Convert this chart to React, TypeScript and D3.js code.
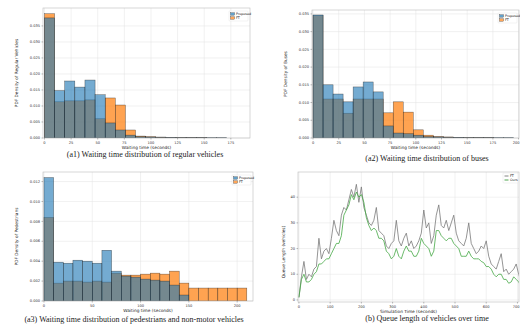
import React from 'react';
import * as d3 from 'd3';

// ---------- data ----------
// (a1) regular vehicles, density per bin
const regularBlue = [0.0375, 0.0148, 0.0178, 0.0159, 0.0181, 0.0135, 0.0047, 0.0025, 0.0009, 0.0004, 0.0003, 0.0002, 0.0002, 0.0001, 0.0001, 0.0001, 0.0001, 0.0001];
const regularOrange = [0.0388, 0.0113, 0.0116, 0.0116, 0.0119, 0.0060, 0.0125, 0.0103, 0.0025, 0.0006, 0.0004, 0.0003, 0.0002, 0.0001, 0.0001, 0.0001, 0, 0];
// (a2) buses
const busBlue = [0.0347, 0.0150, 0.0124, 0.0102, 0.0144, 0.0158, 0.0130, 0.0034, 0.0014, 0.0012, 0.0008, 0.0004, 0.0003, 0.0002, 0.0002, 0.0001, 0.0001, 0.0001, 0.0001, 0.0001];
const busOrange = [0.0345, 0.0110, 0.0110, 0.0070, 0.0110, 0.0110, 0.0110, 0.0071, 0.0102, 0.0073, 0.0023, 0.0008, 0.0004, 0.0003, 0.0002, 0.0001, 0.0001, 0.0001, 0, 0];
// (a3) pedestrians and non-motor vehicles
const pedBlue = [0.0124, 0.0039, 0.0038, 0.0041, 0.0040, 0.0038, 0.0051, 0.0030, 0.0025, 0.0024, 0.0022, 0.0021, 0.0020, 0.0016, 0.0006, 0, 0, 0, 0, 0, 0];
const pedOrange = [0.0084, 0.0018, 0.0020, 0.0020, 0.0019, 0.0020, 0.0019, 0.0028, 0.0026, 0.0026, 0.0027, 0.0028, 0.0027, 0.0030, 0.0018, 0.0013, 0.0013, 0.0013, 0.0013, 0.0013, 0.0013];

const densTicks = [0, 0.005, 0.01, 0.015, 0.02, 0.025, 0.03, 0.035];
const pedTicks = [0, 0.002, 0.004, 0.006, 0.008, 0.01, 0.012];
const waitTicksA = [0, 25, 50, 75, 100, 125, 150, 175];
const waitTicksB = [0, 25, 50, 75, 100, 125, 150, 175, 200];
const waitTicksC = [0, 50, 100, 150, 200];

// (b) queue length over time, sampled every 8 s
const timeStep = 8;
const queueGrey = [1, 9, 15, 8, 10, 9, 12, 13, 24, 16, 19, 20, 18, 24, 31, 27, 25, 33, 36, 35, 39, 43, 40, 45, 38, 44, 36, 33, 30, 29, 31, 36, 27, 26, 25, 21, 20, 22, 23, 31, 23, 21, 24, 26, 21, 23, 20, 21, 23, 26, 35, 28, 30, 22, 25, 33, 37, 29, 28, 31, 27, 30, 33, 26, 23, 22, 21, 24, 30, 22, 20, 18, 19, 21, 20, 23, 17, 14, 13, 12, 15, 18, 11, 12, 10, 11, 12, 14, 10, 7];
const queueGreen = [1, 8, 10, 7, 7, 8, 10, 11, 14, 14, 15, 16, 16, 18, 20, 22, 22, 25, 33, 35, 37, 41, 39, 42, 40, 41, 38, 32, 29, 27, 28, 27, 24, 24, 23, 19, 18, 16, 17, 20, 17, 16, 19, 21, 19, 19, 17, 17, 19, 24, 22, 21, 20, 17, 19, 27, 27, 25, 24, 23, 24, 24, 22, 21, 20, 17, 17, 17, 19, 17, 16, 16, 16, 15, 14.5, 13, 13, 12, 10, 9, 10, 10, 8, 8, 6.5, 7, 9, 8, 7, 5];
const queueYTicks = [0, 10, 20, 30, 40];
const timeTicks = [0, 100, 200, 300, 400, 500, 600, 700];

const legendHist = ['Proposed', 'FT'];
const legendLine = ['FT', 'Ours'];

// ---------- style ----------
const BLUE = '#1f77b4';
const ORANGE = '#ff7f0e';
const SANS = 'DejaVu Sans, sans-serif';
const SERIF = 'Liberation Serif, Times New Roman, serif';

type HistProps = {
  id: string;
  x0: number; x1: number; y0: number; y1: number;
  xDomain: [number, number]; yDomain: [number, number];
  xTicks: number[]; yTicks: number[]; yFmt: (v: number) => string;
  binWidth: number; blue: number[]; orange: number[];
  ylabel: string; xlabel: string; caption: string; capX: number; capY: number;
};

function Legend({ x, y, items, kind, w }: { x: number; y: number; items: string[]; kind: 'patch' | 'line'; w: number }) {
  const colors = kind === 'patch' ? [BLUE, ORANGE] : ['#777', '#3a9a3a'];
  return (
    <g>
      <rect x={x} y={y} width={w} height={10} fill="white" fillOpacity={0.85} stroke="#ddd" strokeWidth={0.4} rx={0.8} />
      {items.map((t, i) => (
        <g key={t}>
          {kind === 'patch' ? (
            <rect x={x + 1.5} y={y + 1.8 + i * 4} width={4} height={2.4} fill={colors[i]} fillOpacity={0.7} stroke="#222" strokeWidth={0.3} />
          ) : (
            <line x1={x + 1.5} x2={x + 5.5} y1={y + 3 + i * 4} y2={y + 3 + i * 4} stroke={colors[i]} strokeWidth={0.9} />
          )}
          <text x={x + 7} y={y + 4.1 + i * 4} fontSize={3.3} fontFamily={SANS} fill="#111">{t}</text>
        </g>
      ))}
    </g>
  );
}

function Hist(p: HistProps) {
  const x = d3.scaleLinear().domain(p.xDomain).range([p.x0, p.x1]);
  const y = d3.scaleLinear().domain(p.yDomain).range([p.y1, p.y0]);
  const bars = (vals: number[], color: string, op: number) =>
    vals.map((v, i) =>
      v > 0 ? (
        <rect key={color + i}
          x={x(i * p.binWidth)} width={x((i + 1) * p.binWidth) - x(i * p.binWidth)}
          y={y(v)} height={y(0) - y(v)}
          fill={color} fillOpacity={op} stroke="#1a1a1a" strokeOpacity={0.7} strokeWidth={0.45} />
      ) : null
    );
  return (
    <g>
      <defs>
        <clipPath id={'clip' + p.id}><rect x={p.x0} y={p.y0} width={p.x1 - p.x0} height={p.y1 - p.y0} /></clipPath>
      </defs>
      <rect x={p.x0} y={p.y0} width={p.x1 - p.x0} height={p.y1 - p.y0} fill="white" />
      {p.xTicks.map(t => (
        <line key={'gx' + t} x1={x(t)} x2={x(t)} y1={p.y0} y2={p.y1} stroke="#e2e2e2" strokeWidth={0.5} />
      ))}
      {p.yTicks.map(t => (
        <line key={'gy' + t} x1={p.x0} x2={p.x1} y1={y(t)} y2={y(t)} stroke="#e2e2e2" strokeWidth={0.5} />
      ))}
      <g clipPath={`url(#clip${p.id})`}>
        {bars(p.orange, ORANGE, 0.72)}
        {bars(p.blue, BLUE, 0.62)}
      </g>
      <rect x={p.x0} y={p.y0} width={p.x1 - p.x0} height={p.y1 - p.y0} fill="none" stroke="#bdbdbd" strokeWidth={0.6} />
      {p.yTicks.map(t => (
        <g key={'ty' + t}>
          <line x1={p.x0 - 1.5} x2={p.x0} y1={y(t)} y2={y(t)} stroke="#555" strokeWidth={0.4} />
          <text x={p.x0 - 3} y={y(t) + 1.2} fontSize={3.6} textAnchor="end" fontFamily={SANS} fill="#333">{p.yFmt(t)}</text>
        </g>
      ))}
      {p.xTicks.map(t => {
        const edge = x(t) > 514;
        return (
          <g key={'tx' + t}>
            <line x1={x(t)} x2={x(t)} y1={p.y1} y2={p.y1 + 1.5} stroke="#555" strokeWidth={0.4} />
            <text x={edge ? 519.5 : x(t)} y={p.y1 + 5.5} fontSize={3.6} textAnchor={edge ? 'end' : 'middle'} fontFamily={SANS} fill="#333">{t}</text>
          </g>
        );
      })}
      <text x={(p.x0 + p.x1) / 2} y={p.y1 + 10.5} fontSize={4.3} textAnchor="middle" fontFamily={SANS} fill="#222">{p.xlabel}</text>
      <text transform={`translate(${p.x0 - 25},${(p.y0 + p.y1) / 2}) rotate(-90)`} fontSize={4.3} textAnchor="middle" fontFamily={SANS} fill="#222">{p.ylabel}</text>
      <Legend x={p.x1 - 21} y={p.y0 + 3} items={legendHist} kind="patch" w={19} />
      <text x={p.capX} y={p.capY} fontSize={8} textAnchor="middle" fontFamily={SERIF} fill="#222">{p.caption}</text>
    </g>
  );
}

function QueuePanel() {
  const x0 = 298, x1 = 519, y0 = 172, y1 = 302;
  const x = d3.scaleLinear().domain([-3, 705]).range([x0, x1]);
  const y = d3.scaleLinear().domain([-0.8, 49.8]).range([y1, y0]);
  const line = d3.line<number>().x((_, i) => x(i * timeStep)).y(d => y(d));
  return (
    <g>
      <defs>
        <clipPath id="clipQ"><rect x={x0} y={y0} width={x1 - x0} height={y1 - y0} /></clipPath>
      </defs>
      <rect x={x0} y={y0} width={x1 - x0} height={y1 - y0} fill="white" />
      {timeTicks.map(t => (
        <line key={'gx' + t} x1={x(t)} x2={x(t)} y1={y0} y2={y1} stroke="#e2e2e2" strokeWidth={0.5} />
      ))}
      {queueYTicks.map(t => (
        <line key={'gy' + t} x1={x0} x2={x1} y1={y(t)} y2={y(t)} stroke="#e2e2e2" strokeWidth={0.5} />
      ))}
      <g clipPath="url(#clipQ)">
        <path d={line(queueGrey) || ''} fill="none" stroke="#7a7a7a" strokeWidth={0.8} />
        <path d={line(queueGreen) || ''} fill="none" stroke="#45a845" strokeWidth={0.8} />
      </g>
      <rect x={x0} y={y0} width={x1 - x0} height={y1 - y0} fill="none" stroke="#bdbdbd" strokeWidth={0.6} />
      {queueYTicks.map(t => (
        <g key={'ty' + t}>
          <line x1={x0 - 1.5} x2={x0} y1={y(t)} y2={y(t)} stroke="#555" strokeWidth={0.4} />
          <text x={x0 - 3} y={y(t) + 1.2} fontSize={3.6} textAnchor="end" fontFamily={SANS} fill="#333">{t}</text>
        </g>
      ))}
      {timeTicks.map(t => {
        const edge = x(t) > 514;
        return (
          <g key={'tx' + t}>
            <line x1={x(t)} x2={x(t)} y1={y1} y2={y1 + 1.5} stroke="#555" strokeWidth={0.4} />
            <text x={edge ? 519.5 : x(t)} y={y1 + 5.5} fontSize={3.6} textAnchor={edge ? 'end' : 'middle'} fontFamily={SANS} fill="#333">{t}</text>
          </g>
        );
      })}
      <text x={(x0 + x1) / 2} y={y1 + 10.5} fontSize={4.3} textAnchor="middle" fontFamily={SANS} fill="#222">Simulation Time (seconds)</text>
      <text transform={`translate(${x0 - 13},${(y0 + y1) / 2 + 15}) rotate(-90)`} fontSize={4.3} textAnchor="middle" fontFamily={SANS} fill="#222">Queue Length (vehicles)</text>
      <Legend x={x1 - 16} y={y0 + 1} items={legendLine} kind="line" w={15} />
      <text x={427} y={321} fontSize={8} textAnchor="middle" fontFamily={SERIF} fill="#222">(b) Queue length of vehicles over time</text>
    </g>
  );
}

const fmt3 = (v: number) => v.toFixed(3);

export default function App() {
  return (
    <svg width={520} height={331} viewBox="0 0 520 331"
      style={{ position: 'absolute', left: 0, top: 0, background: 'white' }}>
      <rect x={0} y={0} width={520} height={331} fill="white" />
      <Hist id="a" x0={43} x1={250} y0={8} y1={138}
        xDomain={[-1.4, 193]} yDomain={[0, 0.0406]}
        xTicks={waitTicksA} yTicks={densTicks} yFmt={fmt3}
        binWidth={9.5} blue={regularBlue} orange={regularOrange}
        ylabel="PDF Density of Regular Vehicles" xlabel="Waiting time (seconds)"
        caption="(a1) Waiting time distribution of regular vehicles" capX={145} capY={157} />
      <Hist id="b" x0={312} x1={519} y0={10} y1={138}
        xDomain={[-1, 200.4]} yDomain={[0, 0.0361]}
        xTicks={waitTicksB} yTicks={densTicks} yFmt={fmt3}
        binWidth={9.75} blue={busBlue} orange={busOrange}
        ylabel="PDF Density of Buses" xlabel="Waiting time (seconds)"
        caption="(a2) Waiting time distribution of buses" capX={427} capY={161} />
      <Hist id="c" x0={43} x1={253} y0={172} y1={301}
        xDomain={[-1, 216.4]} yDomain={[0, 0.01296]}
        xTicks={waitTicksC} yTicks={pedTicks} yFmt={fmt3}
        binWidth={10} blue={pedBlue} orange={pedOrange}
        ylabel="PDF Density of Pedestrians" xlabel="Waiting time (seconds)"
        caption="(a3) Waiting time distribution of pedestrians and non-motor vehicles" capX={134} capY={322} />
      <QueuePanel />
    </svg>
  );
}
